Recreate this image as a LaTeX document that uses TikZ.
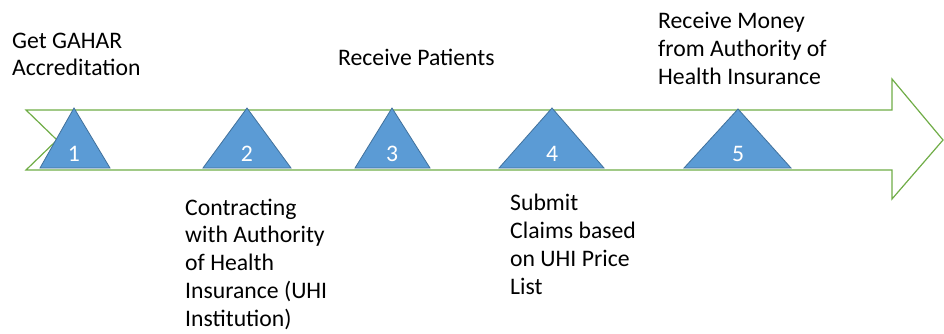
\documentclass[tikz,border=0pt]{standalone}
\usepackage{fontspec}
\setmainfont{Carlito}
\begin{document}
\begin{tikzpicture}[x=1pt,y=-1pt,
  arrowshape/.style={draw=arrowgreen, line width=1.2pt, fill=white},
  tri/.style={draw=tristroke, line width=0.8pt, fill=trifill},
  num/.style={text=white, anchor=base, inner sep=0pt, font=\fontsize{23.7}{28}\selectfont},
  lbl/.style={anchor=base west, inner sep=0pt, font=\fontsize{23.7}{28}\selectfont}]
\definecolor{arrowgreen}{HTML}{70AD47}
\definecolor{trifill}{HTML}{5B9BD5}
\definecolor{tristroke}{HTML}{41719C}
\useasboundingbox (0,0) rectangle (944,333);
% big arrow
\draw[arrowshape] (26,110) -- (892,110) -- (892,79) -- (943,140) -- (892,199) -- (892,170) -- (26,170) -- (57,140) -- cycle;
% triangles
\draw[tri] (40,168) -- (74,108) -- (110,168) -- cycle;
\draw[tri] (203,168) -- (247,108) -- (291,168) -- cycle;
\draw[tri] (355,168) -- (392,108) -- (430,168) -- cycle;
\draw[tri] (499,168) -- (552,108) -- (604,168) -- cycle;
\draw[tri] (684,168) -- (738,109) -- (791,168) -- cycle;
\node[num] (n1) at (74,161) {1};
\node[num] (n2) at (247,161) {2};
\node[num] (n3) at (392,161) {3};
\node[num] (n4) at (552,161) {4};
\node[num] (n5) at (738,161) {5};
% labels
\node[lbl] (t1) at (12,48) {\parbox[t]{200pt}{\fontsize{23.7}{27}\selectfont Get GAHAR\\Accreditation}};
\node[lbl] (t3) at (338,65) {Receive Patients};
\node[lbl] (t5) at (658,28) {\parbox[t]{250pt}{\fontsize{23.7}{28}\selectfont Receive Money\\from Authority of\\Health Insurance}};
\node[lbl] (t2) at (185,215) {\parbox[t]{200pt}{\fontsize{23.7}{27.8}\selectfont Contracting\\with Authority\\of Health\\Insurance (UHI\\Institution)}};
\node[lbl] (t4) at (510,210) {\parbox[t]{200pt}{\fontsize{23.7}{28.3}\selectfont Submit\\Claims based\\on UHI Price\\List}};
\end{tikzpicture}
\end{document}
